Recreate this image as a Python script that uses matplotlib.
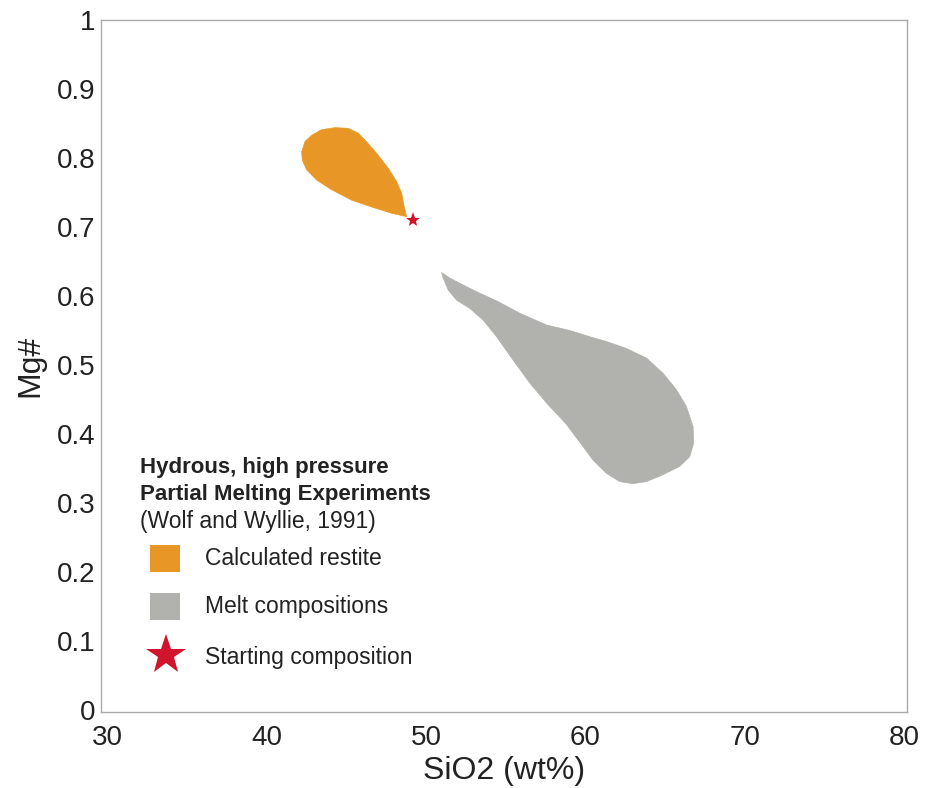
import matplotlib
matplotlib.use('Agg')
import matplotlib.pyplot as plt
from matplotlib.patches import Rectangle
from matplotlib.lines import Line2D

# outline of the calculated restite field (SiO2 wt%, Mg#)
restite_sio2 = [42.20, 42.41, 42.83, 43.45, 44.29, 45.12, 45.75, 46.37, 47.00,
                47.63, 48.15, 48.47, 48.63, 48.78, 47.84, 46.59, 45.33, 44.08,
                43.14, 42.51, 42.24]
restite_mg = [0.809, 0.824, 0.833, 0.841, 0.844, 0.843, 0.836, 0.821, 0.804,
              0.785, 0.766, 0.749, 0.729, 0.715, 0.720, 0.729, 0.739, 0.754,
              0.768, 0.783, 0.797]

# outline of the melt composition field
melt_sio2 = [50.97, 51.49, 52.32, 53.37, 54.42, 55.88, 57.55, 59.01, 60.26,
             61.31, 62.56, 63.82, 64.86, 65.70, 66.32, 66.74, 66.78, 66.53,
             65.90, 64.86, 63.82, 62.98, 62.14, 61.31, 60.47, 59.64, 58.80,
             57.55, 56.50, 55.46, 54.42, 53.58, 52.74, 51.91, 51.38, 51.07]
melt_mg = [0.634, 0.626, 0.616, 0.604, 0.593, 0.575, 0.558, 0.550, 0.541,
           0.534, 0.524, 0.510, 0.488, 0.464, 0.440, 0.411, 0.387, 0.367,
           0.353, 0.341, 0.331, 0.328, 0.331, 0.343, 0.362, 0.388, 0.414,
           0.445, 0.474, 0.507, 0.541, 0.565, 0.582, 0.594, 0.609, 0.626]

start_sio2 = [49.17]
start_mg = [0.710]

x_ticks = [30, 40, 50, 60, 70, 80]
y_ticks = [0, 0.1, 0.2, 0.3, 0.4, 0.5, 0.6, 0.7, 0.8, 0.9, 1]
y_ticklabels = ['0', '0.1', '0.2', '0.3', '0.4', '0.5', '0.6', '0.7', '0.8', '0.9', '1']

header = ['Hydrous, high pressure', 'Partial Melting Experiments']
source = '(Wolf and Wyllie, 1991)'
labels = ['Calculated restite', 'Melt compositions', 'Starting composition']

ORANGE = '#E89726'
GREY = '#B1B2AE'
RED = '#D0142C'

plt.rcParams['font.family'] = ['Liberation Sans', 'DejaVu Sans']

fig = plt.figure(figsize=(9.27, 7.88), dpi=100)
ax = fig.add_axes([0.109, 0.0964, 0.869, 0.8782])

ax.fill(restite_sio2, restite_mg, color=ORANGE, lw=0.5, ec=ORANGE,
        joinstyle='round')
ax.fill(melt_sio2, melt_mg, color=GREY, lw=0.5, ec=GREY, joinstyle='round')
ax.plot(start_sio2, start_mg, ls='none', marker='*', ms=11, color=RED, mew=0)

ax.set_xlim(29.62, 80.13)
ax.set_ylim(-0.003, 1.0)
ax.set_xticks(x_ticks)
ax.set_yticks(y_ticks)
ax.set_yticklabels(y_ticklabels)
ax.tick_params(length=0, labelsize=20, colors='#222222')
ax.tick_params(axis='x', pad=9)
ax.tick_params(axis='y', pad=4)
for s in ax.spines.values():
    s.set_color('#aaaaaa')
    s.set_linewidth(1.0)

ax.set_xlabel('SiO2 (wt%)', fontsize=23, color='#222222', labelpad=4)
ax.set_ylabel('Mg#', fontsize=23, color='#222222', labelpad=8)

# legend block, drawn by hand
tr = ax.transAxes
ax.text(0.048, 0.354, header[0], transform=tr, fontsize=16, fontweight='bold',
        va='center', color='#222222')
ax.text(0.048, 0.315, header[1], transform=tr, fontsize=16, fontweight='bold',
        va='center', color='#222222')
ax.text(0.048, 0.276, source, transform=tr, fontsize=16.5, va='center', color='#222222')

ax.add_patch(Rectangle((0.061, 0.202), 0.037, 0.039, transform=tr,
                       color=ORANGE, lw=0))
ax.add_patch(Rectangle((0.061, 0.133), 0.037, 0.039, transform=tr,
                       color=GREY, lw=0))
ax.add_line(Line2D([0.0806], [0.0824], transform=tr, ls='none', marker='*',
                   ms=30, color=RED, mew=0))

for yy, lab in zip([0.2225, 0.153, 0.0795], labels):
    ax.text(0.129, yy, lab, transform=tr, fontsize=16.5, va='center', color='#222222')

fig.savefig('out.png', dpi=100)
